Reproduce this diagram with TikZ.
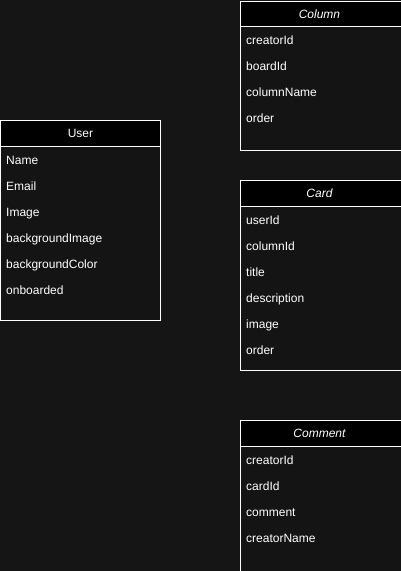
\documentclass[tikz,border=0pt]{standalone}
\usepackage{fontspec}
\setmainfont{Liberation Sans}
\definecolor{bgc}{HTML}{151515}
\definecolor{bodyc}{HTML}{141414}
\tikzset{
  ent/.style={draw=white, line width=1pt, fill=bodyc, anchor=north west, inner sep=0pt, minimum width=160pt},
  hdr/.style={draw=white, line width=1pt, fill=black, anchor=north west, inner sep=0pt, minimum width=160pt, minimum height=26pt, text=white, font=\fontsize{12}{14}\selectfont},
  fld/.style={anchor=base west, inner sep=0pt, text=white, font=\fontsize{12}{14}\selectfont},
  wide/.style={minimum width=166pt},
}
\begin{document}
\begin{tikzpicture}[x=1pt,y=-1pt]
\useasboundingbox (0,0) rectangle (401,571);
\fill[bgc] (0,0) rectangle (401,571);
\clip (0,0) rectangle (401,571);
% User
\node[ent, minimum height=200pt] (user) at (0,120) {};
\node[hdr] (userh) at (0,120) {\raisebox{-1pt}{User}};
\foreach \t [count=\i] in {Name,Email,Image,backgroundImage,backgroundColor,onboarded}
  \node[fld] (user\i) at (6,{146+18+26*(\i-1)}) {\t};
% Column
\node[ent, wide, minimum height=149pt] (col) at (240,1) {};
\node[hdr, wide, minimum height=25pt] (colh) at (240,1) {\hspace*{-8pt}\itshape\raisebox{-1pt}{Column}};
\foreach \t [count=\i] in {creatorId,boardId,columnName,order}
  \node[fld] (col\i) at (246,{26+18+26*(\i-1)}) {\t};
% Card
\node[ent, wide, minimum height=190pt] (card) at (240,180) {};
\node[hdr, wide] (cardh) at (240,180) {\hspace*{-8pt}\itshape\raisebox{-1pt}{Card}};
\foreach \t [count=\i] in {userId,columnId,title,description,image,order}
  \node[fld] (card\i) at (246,{206+18+26*(\i-1)}) {\t};
% Comment
\node[ent, wide, minimum height=160pt] (com) at (240,420) {};
\node[hdr, wide] (comh) at (240,420) {\hspace*{-8pt}\itshape\raisebox{-1pt}{Comment}};
\foreach \t [count=\i] in {creatorId,cardId,comment,creatorName}
  \node[fld] (com\i) at (246,{446+18+26*(\i-1)}) {\t};
\end{tikzpicture}
\end{document}
